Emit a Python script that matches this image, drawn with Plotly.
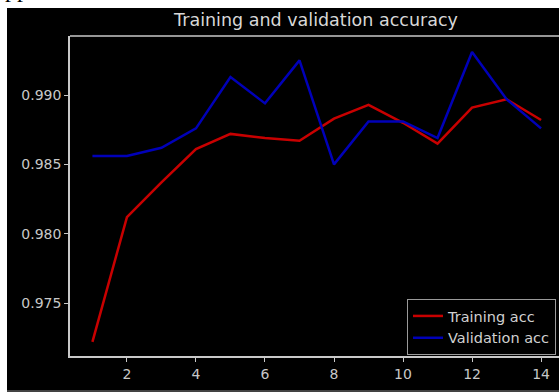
import plotly.graph_objects as go

epochs = list(range(1, 15))
training_acc = [0.9722, 0.9812, 0.9837, 0.9861, 0.9872, 0.9869, 0.9867,
                0.9883, 0.9893, 0.9880, 0.9865, 0.9891, 0.9897, 0.9882]
validation_acc = [0.9856, 0.9856, 0.9862, 0.9876, 0.9913, 0.9894, 0.9925,
                  0.9850, 0.9881, 0.9881, 0.9869, 0.9931, 0.9897, 0.9876]
x_ticks = [2, 4, 6, 8, 10, 12, 14]
y_ticks = [0.975, 0.980, 0.985, 0.990]
y_tick_labels = ["0.975", "0.980", "0.985", "0.990"]

W, H = 559, 392
L, R, T, B = 70, 0, 36, 36
pw, ph = W - L - R, H - T - B

def px_x(p):
    return (p - L) / pw

def px_y(p):
    return (H - B - p) / ph

axis_col = "#c8c8c8"
fig = go.Figure()
fig.add_trace(go.Scatter(x=epochs, y=training_acc, mode="lines", name="Training acc",
                         line=dict(color="#c80000", width=2.5)))
fig.add_trace(go.Scatter(x=epochs, y=validation_acc, mode="lines", name="Validation acc",
                         line=dict(color="#0000b8", width=2.5)))

fig.update_layout(
    width=W, height=H,
    margin=dict(l=L, r=R, t=T, b=B),
    paper_bgcolor="white",
    plot_bgcolor="black",
    font=dict(family="DejaVu Sans", color=axis_col, size=14),
    title=dict(text="Training and validation accuracy", x=px_x(316), xref="paper",
               xanchor="center", y=1 - 20 / H, yanchor="middle",
               font=dict(size=17.5, color="#d8d8d8")),
    showlegend=True,
    legend=dict(x=px_x(556), y=px_y(355), xanchor="right", yanchor="bottom",
                bgcolor="black", bordercolor="#9a9a9a", borderwidth=1,
                font=dict(size=14.5, color="#d0d0d0"), tracegroupgap=0,
                itemwidth=30),
    shapes=[dict(type="rect", xref="paper", yref="paper", layer="below",
                 x0=px_x(7), x1=px_x(W + 5), y0=px_y(H + 5), y1=px_y(8),
                 fillcolor="black", line=dict(width=0)),
            dict(type="line", xref="paper", yref="paper", layer="above",
                 x0=px_x(7), x1=px_x(W + 5), y0=px_y(391), y1=px_y(391),
                 line=dict(color="#5a5a5a", width=1.5))],
    annotations=[dict(text="pp", xref="paper", yref="paper", x=px_x(3), y=px_y(-11),
                      xanchor="left", yanchor="middle", showarrow=False,
                      font=dict(family="Liberation Serif", size=24, color="black"))],
)
fig.update_xaxes(range=[0.35, 14.52], tickvals=x_ticks, ticks="outside", ticklen=4,
                 tickcolor=axis_col, showgrid=False, zeroline=False,
                 showline=True, linecolor=axis_col, linewidth=1.5, mirror=False,
                 tickfont=dict(size=14, color=axis_col))
fig.update_yaxes(range=[0.97118, 0.99426], tickvals=y_ticks, ticktext=y_tick_labels,
                 ticks="outside", ticklen=4, tickcolor=axis_col, showgrid=False,
                 zeroline=False, showline=True, linecolor=axis_col, linewidth=1.5,
                 tickfont=dict(size=14, color=axis_col))
fig.add_shape(type="line", xref="paper", yref="paper", x0=0, x1=1, y0=1, y1=1,
              line=dict(color=axis_col, width=1.5))
fig.write_html("out.html", config={"displayModeBar": False},
               post_script="document.body.style.margin='0';document.body.style.overflow='hidden';")
